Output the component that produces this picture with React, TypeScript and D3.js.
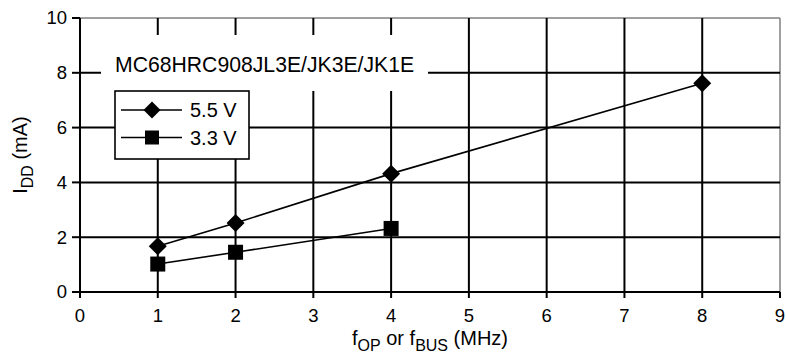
import React from "react";
import * as d3 from "d3";

const freq55 = [1, 2, 4, 8];
const idd55 = [1.67, 2.52, 4.32, 7.62];
const freq33 = [1, 2, 4];
const idd33 = [1.02, 1.45, 2.32];
const xTicks = [0, 1, 2, 3, 4, 5, 6, 7, 8, 9];
const yTicks = [0, 2, 4, 6, 8, 10];
const seriesNames = ["5.5 V", "3.3 V"];
const titleText = "MC68HRC908JL3E/JK3E/JK1E";

const W = 786;
const H = 360;
const FONT = "'Liberation Sans', Arial, Helvetica, sans-serif";

export default function App() {
  const x = d3.scaleLinear().domain([0, 9]).range([80, 780]);
  const y = d3.scaleLinear().domain([0, 10]).range([292, 18]);
  const line = d3
    .line<[number, number]>()
    .x((d) => x(d[0]))
    .y((d) => y(d[1]));
  const d55: [number, number][] = freq55.map((f, i) => [f, idd55[i]]);
  const d33: [number, number][] = freq33.map((f, i) => [f, idd33[i]]);

  const diamond = (cx: number, cy: number, r: number) =>
    `M${cx},${cy - r}L${cx + r},${cy}L${cx},${cy + r}L${cx - r},${cy}Z`;

  const titleBox = { x0: 101, y0: 35, x1: 428, y1: 91 };
  const legBox = { x0: 115, y0: 91, x1: 249, y1: 159 };

  return (
    <svg
      width={W}
      height={H}
      style={{ position: "absolute", left: 0, top: 0, background: "#fff" }}
      fontFamily={FONT}
    >
      <rect x={0} y={0} width={W} height={H} fill="#fff" />
      <line x1={x(0)} x2={x(9)} y1={y(10)} y2={y(10)} stroke="#808080" strokeWidth={1.5} />
      <line x1={x(9)} x2={x(9)} y1={y(10)} y2={y(0)} stroke="#808080" strokeWidth={1.5} />
      {xTicks.slice(1, -1).map((t) => (
        <line key={"vx" + t} x1={x(t)} x2={x(t)} y1={y(10)} y2={y(0)} stroke="#000" strokeWidth={2} />
      ))}
      {yTicks.slice(1, -1).map((t) => (
        <line key={"hy" + t} x1={x(0)} x2={x(9)} y1={y(t)} y2={y(t)} stroke="#000" strokeWidth={2} />
      ))}
      <rect
        x={titleBox.x0}
        y={titleBox.y0}
        width={titleBox.x1 - titleBox.x0}
        height={titleBox.y1 - titleBox.y0}
        fill="#fff"
      />
      <text x={115} y={72} fontSize={21.2} fill="#000">
        {titleText}
      </text>
      <line x1={x(0)} x2={x(0)} y1={y(10)} y2={y(0) + 1} stroke="#000" strokeWidth={2} />
      <line x1={x(0) - 1} x2={x(9)} y1={y(0)} y2={y(0)} stroke="#000" strokeWidth={2} />
      {yTicks.map((t) => (
        <g key={"yt" + t}>
          <line x1={x(0) - 8} x2={x(0)} y1={y(t)} y2={y(t)} stroke="#000" strokeWidth={2} />
          <text x={67} y={y(t)} dy="0.35em" textAnchor="end" fontSize={18.5} fill="#000">
            {t}
          </text>
        </g>
      ))}
      {xTicks.map((t) => (
        <g key={"xt" + t}>
          <line x1={x(t)} x2={x(t)} y1={y(0)} y2={y(0) + 6} stroke="#000" strokeWidth={2} />
          <text x={x(t)} y={322} textAnchor="middle" fontSize={18.5} fill="#000">
            {t}
          </text>
        </g>
      ))}
      <path d={line(d55) || ""} fill="none" stroke="#000" strokeWidth={1.6} />
      <path d={line(d33) || ""} fill="none" stroke="#000" strokeWidth={1.6} />
      {d55.map((d, i) => (
        <path key={"m55" + i} d={diamond(x(d[0]), y(d[1]), 9)} fill="#000" />
      ))}
      {d33.map((d, i) => (
        <rect key={"m33" + i} x={x(d[0]) - 7.5} y={y(d[1]) - 7.5} width={15} height={15} fill="#000" />
      ))}
      <rect
        x={legBox.x0}
        y={legBox.y0}
        width={legBox.x1 - legBox.x0}
        height={legBox.y1 - legBox.y0}
        fill="#fff"
        stroke="#000"
        strokeWidth={1.6}
      />
      <line x1={121} x2={182} y1={110} y2={110} stroke="#000" strokeWidth={1.6} />
      <path d={diamond(152, 110, 8.5)} fill="#000" />
      <text x={190} y={110} dy="0.35em" fontSize={20} fill="#000">
        {seriesNames[0]}
      </text>
      <line x1={121} x2={182} y1={137.5} y2={137.5} stroke="#000" strokeWidth={1.6} />
      <rect x={145} y={130.5} width={14} height={14} fill="#000" />
      <text x={190} y={137.5} dy="0.35em" fontSize={20} fill="#000">
        {seriesNames[1]}
      </text>
      <text x={430} y={345} textAnchor="middle" fontSize={20} fill="#000">
        f<tspan fontSize={16} dy={6}>OP</tspan>
        <tspan dy={-6}> or f</tspan>
        <tspan fontSize={16} dy={6}>BUS</tspan>
        <tspan dy={-6}> (MHz)</tspan>
      </text>
      <text
        transform={`translate(27,${(y(0) + y(10)) / 2}) rotate(-90)`}
        textAnchor="middle"
        fontSize={20}
        fill="#000"
      >
        I<tspan fontSize={16} dy={6}>DD</tspan>
        <tspan dy={-6}> (mA)</tspan>
      </text>
    </svg>
  );
}
